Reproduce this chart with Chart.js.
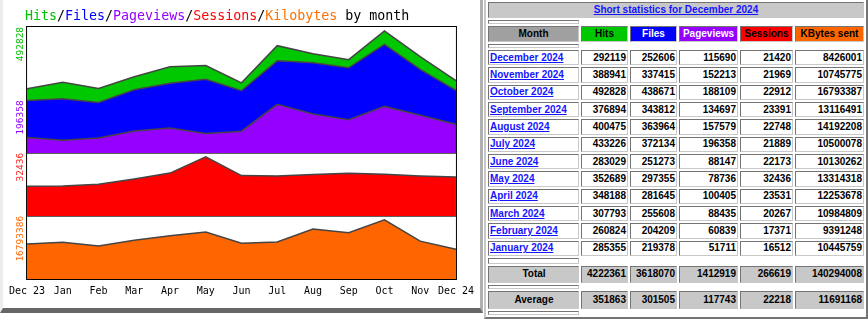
<!DOCTYPE html>
<html>
<head>
<meta charset="utf-8">
<title>Usage summary</title>
<script src="https://cdn.jsdelivr.net/npm/chart.js@4.4.1/dist/chart.umd.min.js"></script>
<style>
  body { margin: 0; width: 868px; height: 325px; overflow: hidden; position: relative; background: #fff;
         font-family: Arial, "Liberation Sans", sans-serif; }
  #graph { position: absolute; left: 0; top: 0; width: 477px; height: 308px; background: #fff;
           border-left: 3px solid #ececec; border-right: 3px solid #b0b0b0; border-bottom: 5px solid #666; }
  #graph canvas { position: absolute; left: 0; top: 0; }
  #graphTitle { position: absolute; left: 22px; top: 8px; font: 13.3px "DejaVu Sans Mono", monospace;
                line-height: 16px; white-space: pre; color: #000; z-index: 2; }
  .c-hits { color: #00c000; } .c-files { color: #0000ff; } .c-pages { color: #9600ff; }
  .c-sess { color: #ff0000; } .c-kb { color: #ff7000; }

  #stats { position: absolute; left: 484px; top: -2px; border-collapse: separate; border-spacing: 2px;
           border: 2px outset #c8c8c8; font: bold 10px Arial, "Liberation Sans", sans-serif; color: #000; }
  #stats td, #stats th { box-sizing: border-box; border: 1px inset #c8c8c8; padding: 0 2px; white-space: nowrap;
                         line-height: 12px; }
  #stats a { color: #1515ff; }
  #stats .head { background: #c8c8c8; height: 16px; text-align: center; }
  #stats .gap { height: 4px; padding: 0; background: #fff; }
  #stats .gap.wide { height: 6px; }
  #stats .colhead th { height: 16px; }
  #stats .row td { height: 15.33px; text-align: right; padding-right: 1px; }
  #stats .row td.month { text-align: left; padding-left: 1px; }
  #stats .sum td, #stats .sum th { background: #c8c8c8; text-align: right; padding-right: 1px; }
  #stats .sum th { text-align: center; }
  #stats .sum.total td, #stats .sum.total th { height: 17px; }
  #stats .sum.avg td, #stats .sum.avg th { height: 18px; }
</style>
</head>
<body>
<div id="graph">
  <div id="graphTitle"><span class="c-hits">Hits</span>/<span class="c-files">Files</span>/<span class="c-pages">Pageviews</span>/<span class="c-sess">Sessions</span>/<span class="c-kb">Kilobytes</span> by month</div>
  <canvas id="usage" width="477" height="308"></canvas>
</div>
<table id="stats"></table>

<script>
// monthly totals, Dec 2023 .. Dec 2024
const months = ['Dec 23', 'Jan', 'Feb', 'Mar', 'Apr', 'May', 'Jun', 'Jul', 'Aug', 'Sep', 'Oct', 'Nov', 'Dec 24'];
const hits = [259000, 285355, 260824, 307793, 348188, 352689, 283029, 433226, 400475, 376894, 492828, 388941, 292119];
const files = [211600, 219378, 204209, 255608, 281645, 297355, 251273, 372134, 363964, 343812, 438671, 337415, 252606];
const pageviews = [63000, 51711, 60839, 88435, 100405, 78736, 88147, 196358, 157579, 134697, 188109, 152213, 115690];
const sessions = [16300, 16512, 17371, 20267, 23531, 32436, 22173, 21889, 22748, 23391, 22912, 21969, 21420];
const kbytes = [9950000, 10445759, 9391248, 10984809, 12253678, 13314318, 10130262, 10500078, 14192208, 13116491, 16793387, 10745775, 8426001];

// peak labels on the left edge of each panel
const peakTicks = ['492828', '196358', '32436', '16793386'];

// table rows, newest first
const tableMonths = ['December 2024', 'November 2024', 'October 2024', 'September 2024', 'August 2024', 'July 2024',
                     'June 2024', 'May 2024', 'April 2024', 'March 2024', 'February 2024', 'January 2024'];
const totals = [4222361, 3618070, 1412919, 266619, 140294008];
const averages = [351863, 301505, 117743, 22218, 11691168];

// frame, panel separators and rotated peak labels
const panelFrame = {
  id: 'panelFrame',
  afterDatasetsDraw(chart) {
    const { ctx, chartArea: a, scales } = chart;
    ctx.save();
    ctx.lineWidth = 1;
    ctx.strokeStyle = '#606060';
    [scales.sessions.top, scales.kbytes.top].forEach(y => {
      const yy = Math.round(y) + 0.5;
      ctx.beginPath();
      ctx.moveTo(a.left, yy);
      ctx.lineTo(a.right, yy);
      ctx.stroke();
    });
    ctx.strokeStyle = '#000';
    ctx.strokeRect(a.left - 0.5, a.top - 0.5, a.right - a.left + 1, a.bottom - a.top + 1);

    const marks = [
      { scale: 'traffic', color: '#00c000' },
      { scale: 'traffic', color: '#9600ff' },
      { scale: 'sessions', color: '#ff2020' },
      { scale: 'kbytes', color: '#ff6a00' }
    ];
    ctx.font = '9.5px "DejaVu Sans Mono", monospace';
    ctx.textAlign = 'right';
    ctx.textBaseline = 'bottom';
    marks.forEach((m, i) => {
      const y = scales[m.scale].getPixelForValue(Number(peakTicks[i])) - 4;
      ctx.save();
      ctx.translate(a.left - 2, y);
      ctx.rotate(-Math.PI / 2);
      ctx.fillStyle = m.color;
      ctx.fillText(peakTicks[i], 0, 0);
      ctx.restore();
    });
    ctx.restore();
  }
};

const panelScale = (weight, stackWeight, top) => ({
  type: 'linear', position: 'left', stack: 'panels', stackWeight, weight,
  display: false, min: 0, max: top
});

new Chart(document.getElementById('usage'), {
  type: 'line',
  data: {
    labels: months,
    datasets: [
      { label: 'Pageviews', data: pageviews, yAxisID: 'traffic', backgroundColor: '#9600ff', order: 1 },
      { label: 'Files', data: files, yAxisID: 'traffic', backgroundColor: '#0000ff', order: 2 },
      { label: 'Hits', data: hits, yAxisID: 'traffic', backgroundColor: '#00c800', order: 3 },
      { label: 'Sessions', data: sessions, yAxisID: 'sessions', backgroundColor: '#ff0000' },
      { label: 'Kilobytes', data: kbytes, yAxisID: 'kbytes', backgroundColor: '#ff6600' }
    ]
  },
  options: {
    responsive: false,
    animation: false,
    layout: { padding: { left: 22, right: 24, top: 27, bottom: 5 } },
    datasets: {
      line: { fill: 'origin', borderColor: '#454545', borderWidth: 1.5, pointRadius: 0, tension: 0 }
    },
    plugins: { legend: { display: false }, tooltip: { enabled: false } },
    scales: {
      x: {
        offset: false,
        grid: { display: false, drawTicks: false },
        border: { display: false },
        ticks: { autoSkip: false, maxRotation: 0, padding: 6, color: '#000',
                 font: { family: 'DejaVu Sans Mono', size: 10 } }
      },
      traffic: panelScale(3, 2, Math.max(...hits) * 1.032),
      sessions: panelScale(2, 1, Math.max(...sessions) * 1.065),
      kbytes: panelScale(1, 1, Math.max(...kbytes) * 1.065)
    }
  },
  plugins: [panelFrame]
});

// Short statistics table
const table = document.getElementById('stats');
const heads = [
  { text: 'Month', bg: '#a0a0a0', color: '#000', w: 91 },
  { text: 'Hits', bg: '#00c800', color: '#000', w: 47 },
  { text: 'Files', bg: '#0000ff', color: '#fff', w: 47 },
  { text: 'Pageviews', bg: '#9600ff', color: '#fff', w: 59 },
  { text: 'Sessions', bg: '#ff0000', color: '#000', w: 53 },
  { text: 'KBytes sent', bg: '#ff6600', color: '#000', w: 69 }
];
const gapRow = cls => `<tr><td class="gap ${cls || ''}"></td></tr>`;
let html = `<tr><th class="head" colspan="6"><a href="#">Short statistics for December 2024</a></th></tr>`;
html += gapRow();
html += '<tr class="colhead">' + heads.map(h =>
  `<th style="width:${h.w}px;background:${h.bg};color:${h.color}">${h.text}</th>`).join('') + '</tr>';
html += gapRow();
tableMonths.forEach((name, i) => {
  const k = months.length - 1 - i;
  const vals = [hits[k], files[k], pageviews[k], sessions[k], kbytes[k]];
  html += `<tr class="row"><td class="month"><a href="#">${name}</a></td>` +
    vals.map(v => `<td>${v}</td>`).join('') + '</tr>';
});
html += gapRow('wide');
html += '<tr class="sum total"><th>Total</th>' + totals.map(v => `<td>${v}</td>`).join('') + '</tr>';
html += gapRow();
html += '<tr class="sum avg"><th>Average</th>' + averages.map(v => `<td>${v}</td>`).join('') + '</tr>';
html += gapRow();
table.innerHTML = html;
</script>
</body>
</html>
